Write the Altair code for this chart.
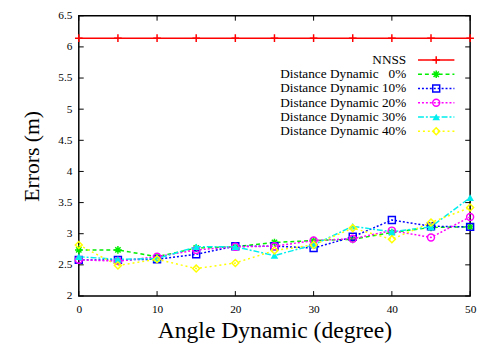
import altair as alt
import pandas as pd

angles = [0, 5, 10, 15, 20, 25, 30, 35, 40, 45, 50]
nnss = [6.14] * 11
dd0 = [2.74, 2.74, 2.63, 2.77, 2.79, 2.86, 2.89, 2.91, 3.02, 3.10, 3.11]
dd10 = [2.58, 2.58, 2.59, 2.67, 2.80, 2.80, 2.77, 2.95, 3.22, 3.12, 3.11]
dd20 = [2.58, 2.56, 2.63, 2.74, 2.79, 2.80, 2.89, 2.92, 3.05, 2.94, 3.27]
dd30 = [2.63, 2.59, 2.60, 2.79, 2.79, 2.65, 2.82, 3.12, 3.03, 3.11, 3.58]
dd40 = [2.82, 2.49, 2.59, 2.44, 2.53, 2.73, 2.82, 3.09, 2.91, 3.18, 3.42]

labels = ["NNSS", "Distance Dynamic \u20070%", "Distance Dynamic 10%",
          "Distance Dynamic 20%", "Distance Dynamic 30%", "Distance Dynamic 40%"]
series = [nnss, dd0, dd10, dd20, dd30, dd40]
colors = ["#ff0000", "#00ee00", "#0000ff", "#ff00ff", "#00eeee", "#ffff00"]
dashes = [[1, 0], [4, 3], [2, 2], [2, 2], [6, 2, 2, 2], [2, 3]]
plus = "M-1,0L1,0M0,-1L0,1"
star = "M-1,0L1,0M0,-1L0,1M-0.7,-0.7L0.7,0.7M-0.7,0.7L0.7,-0.7"
shapes = [plus, star, "square", "circle", "triangle-up", "diamond"]
filled = [False, False, False, False, True, False]
sizes = [60, 60, 50, 50, 60, 50]

x_ticks = [0, 10, 20, 30, 40, 50]
y_ticks = [2, 2.5, 3, 3.5, 4, 4.5, 5, 5.5, 6, 6.5]

W, H = 398, 285
FONT = "Liberation Serif"

xs = alt.Scale(domain=[0, 50], nice=False, zero=False)
ys = alt.Scale(domain=[2, 6.5], nice=False, zero=False)

x_axis = alt.Axis(values=x_ticks, title="Angle Dynamic (degree)", format="d",
                  labelFont=FONT, labelFontSize=11.5, labelPadding=8,
                  titleFont=FONT, titleFontSize=24, titlePadding=4,
                  labelOverlap=False, labelFlush=False)
y_axis = alt.Axis(values=y_ticks, title="Errors (m)", format=".1~f",
                  labelFont=FONT, labelFontSize=11.5, labelPadding=7,
                  titleFont=FONT, titleFontSize=22, titlePadding=15,
                  labelOverlap=False, labelFlush=False)

layers = []
for i, (lab, vals) in enumerate(zip(labels, series)):
    df = pd.DataFrame({"angle": angles, "err": vals})
    base = alt.Chart(df).encode(
        x=alt.X("angle:Q", scale=xs, axis=x_axis),
        y=alt.Y("err:Q", scale=ys, axis=y_axis),
    )
    layers.append(base.mark_line(color=colors[i], strokeWidth=1.5,
                                 strokeDash=dashes[i]))
    layers.append(base.mark_point(shape=shapes[i], filled=filled[i],
                                  color=colors[i], size=sizes[i],
                                  strokeWidth=1.5, opacity=1))
    ly = 45 + 14.5 * i
    one = pd.DataFrame({"t": [lab]})
    layers.append(alt.Chart(one).mark_text(align="right", baseline="middle",
                                           font=FONT, fontSize=13.5, color="black")
                  .encode(x=alt.value(333), y=alt.value(ly), text="t:N"))
    layers.append(alt.Chart(one).mark_rule(color=colors[i], strokeWidth=1.5,
                                           strokeDash=dashes[i])
                  .encode(x=alt.value(345), x2=alt.value(382), y=alt.value(ly)))
    layers.append(alt.Chart(one).mark_point(shape=shapes[i], filled=filled[i],
                                            color=colors[i], size=sizes[i],
                                            strokeWidth=1.5, opacity=1)
                  .encode(x=alt.value(363.5), y=alt.value(ly)))

# inward ticks on all four sides
xt = pd.DataFrame({"v": x_ticks})
yt = pd.DataFrame({"v": y_ticks})
layers.append(alt.Chart(xt).mark_rule(color="black", strokeWidth=1)
              .encode(x=alt.X("v:Q", scale=xs, axis=x_axis), y=alt.value(H), y2=alt.value(H - 5)))
layers.append(alt.Chart(xt).mark_rule(color="black", strokeWidth=1)
              .encode(x=alt.X("v:Q", scale=xs, axis=x_axis), y=alt.value(0), y2=alt.value(5)))
layers.append(alt.Chart(yt).mark_rule(color="black", strokeWidth=1)
              .encode(y=alt.Y("v:Q", scale=ys, axis=y_axis), x=alt.value(0), x2=alt.value(5)))
layers.append(alt.Chart(yt).mark_rule(color="black", strokeWidth=1)
              .encode(y=alt.Y("v:Q", scale=ys, axis=y_axis), x=alt.value(W), x2=alt.value(W - 5)))

chart = alt.layer(*layers).properties(
    width=W, height=H,
    background="white",
    autosize=alt.AutoSizeParams(type="none"),
    padding={"left": 72, "top": 5, "right": 8, "bottom": 50},
).configure_view(stroke="black", strokeWidth=1.5).configure_axis(
    domain=False, ticks=False, grid=False,
    labelColor="black", titleFontWeight="normal", titleColor="black",
)

chart.save("out.html", embed_options={"renderer": "svg", "actions": False})
